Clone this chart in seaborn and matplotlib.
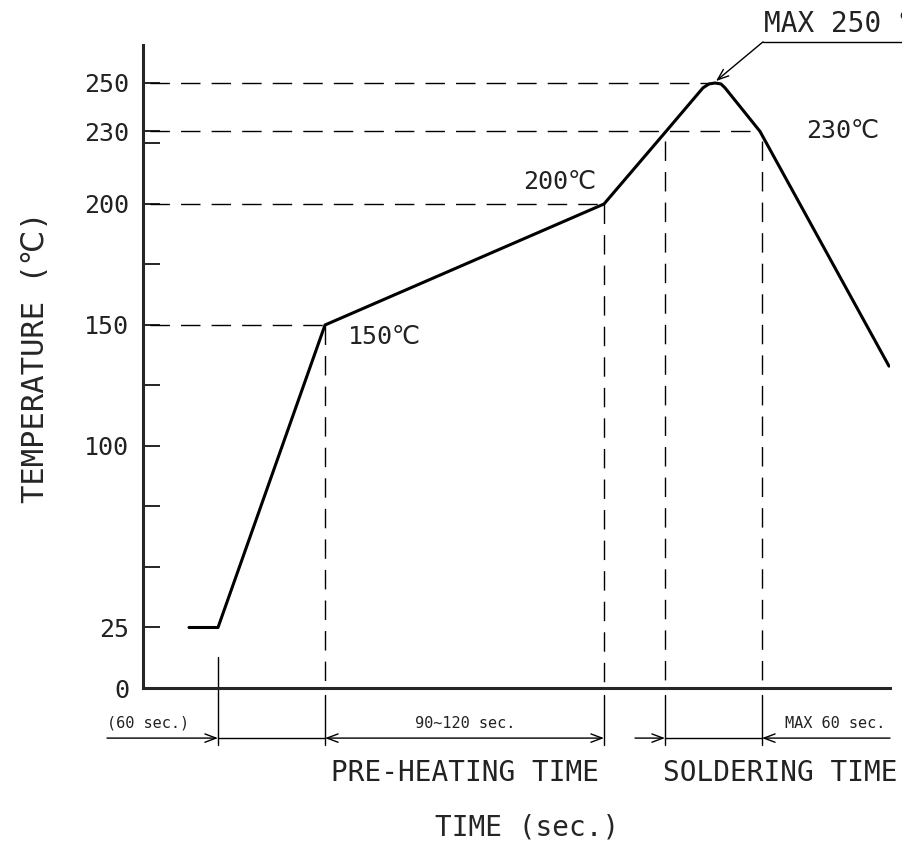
"""Reflow soldering temperature profile chart."""
import matplotlib
matplotlib.use("Agg")
import matplotlib.pyplot as plt
import pandas as pd
import seaborn as sns

# profile curve (time in drawing units, temperature in degC)
time_pts = [46, 75, 182, 461, 523, 560, 566, 572, 578, 582, 617, 746]
temp_pts = [25, 25, 150, 200, 230, 248, 249.6, 250, 249.6, 248, 230, 133]

y_major = [0, 25, 100, 150, 200, 230, 250]
y_minor = [50, 75, 125, 175, 225]

# dashed guide lines: (temperature, x end)
h_guides = [(250, 567), (230, 617), (200, 461), (150, 182)]
# dashed vertical guides: (time, temperature top)
v_guides = [(182, 150), (461, 200), (522, 226), (619, 226)]
# dimension marks under the axis
dim_marks = [75, 182, 461, 522, 619]

point_labels = [("150℃", 205, 145), ("200℃", 380, 209), ("230℃", 663, 230)]

FONT = ["DejaVu Sans Mono", "DejaVu Sans"]

sns.set_style("ticks")
plt.rcParams["font.family"] = FONT
plt.rcParams["text.color"] = "#222222"

fig = plt.figure(figsize=(9.03, 8.43), dpi=100)
ax = fig.add_axes([143 / 903, (843 - 688) / 843, (890 - 143) / 903, (688 - 45) / 843])

df = pd.DataFrame({"time": time_pts, "temp": temp_pts})
sns.lineplot(data=df, x="time", y="temp", sort=False, estimator=None,
             color="black", linewidth=2.2, ax=ax)

dash = (0, (14, 8))
for t, xe in h_guides:
    ax.plot([7, xe], [t, t], color="black", lw=1.0, linestyle=dash)
for xv, t in v_guides:
    ax.plot([xv, xv], [t, 0], color="black", lw=1.0, linestyle=dash)

ax.set_xlim(0, 747)
ax.set_ylim(0, 265.7)
ax.set_xticks([])
ax.set_yticks(y_major)
ax.set_yticks(y_minor, minor=True)
ax.set_yticklabels([str(v) for v in y_major])
ax.tick_params(axis="y", which="both", direction="in", length=12, width=1.2,
               pad=10, labelsize=18, colors="black", labelcolor="#222222")
for s in ["top", "right"]:
    ax.spines[s].set_visible(False)
ax.spines["left"].set_linewidth(2.2)
ax.spines["bottom"].set_linewidth(2.2)

ax.set_xlabel("TIME (sec.)", fontsize=20)
ax.xaxis.set_label_coords(0.514, -0.195)
ax.set_ylabel("TEMPERATURE (℃)", fontsize=22)
ax.yaxis.set_label_coords(-0.125, 0.515)

for txt, x, y in point_labels:
    ax.text(x, y, txt, fontsize=18, ha="left", va="center")

# MAX 250 leader (cut by the right edge, as in the drawing)
ax.text(621, 268.5, "MAX 250 ℃", fontsize=20, ha="left", va="bottom", clip_on=False)
ax.plot([620, 770], [267, 267], color="black", lw=1.0, clip_on=False)
ax.annotate("", xy=(573, 250.8), xytext=(620, 267), annotation_clip=False,
            arrowprops=dict(arrowstyle="->,head_length=0.8,head_width=0.3",
                            lw=1.0, color="black", shrinkA=0, shrinkB=0,
                            mutation_scale=10))

# dimension lines under the time axis
dim_y = -20.7
for xm in dim_marks:
    ax.plot([xm, xm], [-2.9 if xm != 75 else 13, -23.6], color="black", lw=1.0, clip_on=False)

arrow_kw = dict(lw=1.0, color="black", shrinkA=0, shrinkB=0, mutation_scale=10)
head = "->,head_length=0.8,head_width=0.3"
ax.annotate("", xy=(75, dim_y), xytext=(-36, dim_y), annotation_clip=False,
            arrowprops=dict(arrowstyle=head, **arrow_kw))
ax.plot([75, 182], [dim_y, dim_y], color="black", lw=1.0, clip_on=False)
ax.annotate("", xy=(461, dim_y), xytext=(182, dim_y), annotation_clip=False,
            arrowprops=dict(arrowstyle="<->,head_length=0.8,head_width=0.3", **arrow_kw))
ax.annotate("", xy=(522, dim_y), xytext=(492, dim_y), annotation_clip=False,
            arrowprops=dict(arrowstyle=head, **arrow_kw))
ax.plot([522, 619], [dim_y, dim_y], color="black", lw=1.0, clip_on=False)
ax.annotate("", xy=(619, dim_y), xytext=(747, dim_y), annotation_clip=False,
            arrowprops=dict(arrowstyle=head, **arrow_kw))

ax.text(-36, -14.5, "(60 sec.)", fontsize=11, ha="left", va="center", clip_on=False)
ax.text(322, -14.5, "90~120 sec.", fontsize=11, ha="center", va="center", clip_on=False)
ax.text(742, -14.5, "MAX 60 sec.", fontsize=11, ha="right", va="center", clip_on=False)
ax.text(322, -35, "PRE-HEATING TIME", fontsize=20, ha="center", va="center", clip_on=False)
ax.text(637, -35, "SOLDERING TIME", fontsize=20, ha="center", va="center", clip_on=False)

fig.savefig("out.png", dpi=100)
plt.close(fig)
